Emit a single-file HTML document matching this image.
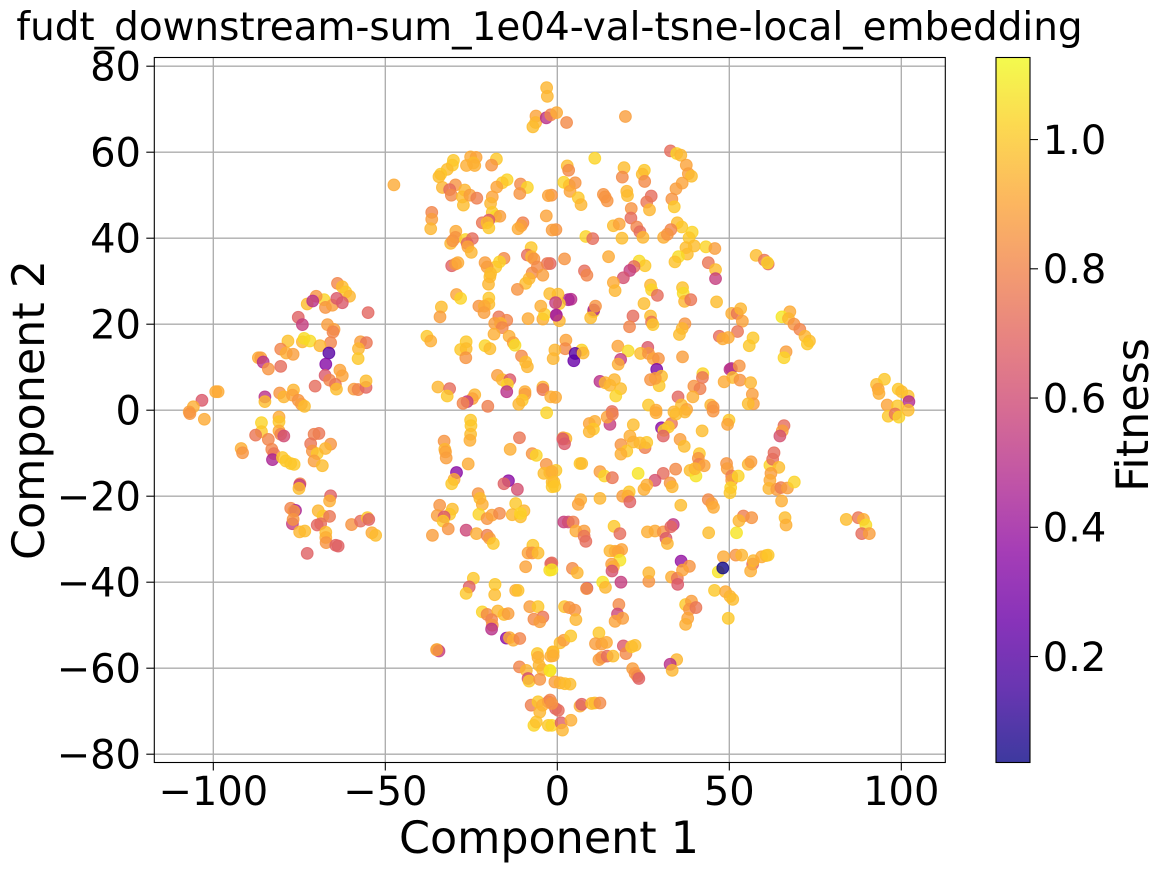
<!DOCTYPE html>
<html lang="en">
<head>
<meta charset="utf-8">
<title>fudt_downstream-sum_1e04-val-tsne-local_embedding</title>
<style>
html,body{margin:0;padding:0;background:#fff;}
svg{display:block;}
text{font-family:"DejaVu Sans",sans-serif;fill:#000;}
</style>
</head>
<body>
<svg id="chart" xmlns="http://www.w3.org/2000/svg" width="1163" height="872" viewBox="0 0 1163 872">
<defs>
<linearGradient id="plasma-gradient" x1="0" y1="1" x2="0" y2="0"></linearGradient>
<clipPath id="plot-clip"><rect x="154.3" y="57.5" width="791" height="705"></rect></clipPath>
</defs>
<text x="549.5" y="40" text-anchor="middle" font-size="38.9">fudt_downstream-sum_1e04-val-tsne-local_embedding</text>
<g id="grid"></g>
<g id="points" clip-path="url(#plot-clip)"></g>
<rect x="154.3" y="57.5" width="791" height="705" fill="none" stroke="#000" stroke-width="1.1"></rect>
<g id="x-axis"></g>
<g id="y-axis"></g>
<text x="549" y="853" text-anchor="middle" font-size="44.4">Component 1</text>
<text transform="translate(44,410) rotate(-90)" text-anchor="middle" font-size="44.4">Component 2</text>
<rect x="996" y="57.5" width="34" height="705" fill="url(#plasma-gradient)" stroke="#000" stroke-width="1.1"></rect>
<g id="colorbar-axis"></g>
<text transform="translate(1148,415) rotate(-90)" text-anchor="middle" font-size="44.4">Fitness</text>
</svg>
<script>
const xTickValues = [-100, -50, 0, 50, 100];
const yTickValues = [-80, -60, -40, -20, 0, 20, 40, 60, 80];
const colorTickValues = [0.2, 0.4, 0.6, 0.8, 1.0];
const plasmaStops = ['#0d0887','#41049d','#6a00a8','#8f0da4','#b12a90','#cc4778','#e16462','#f1844b','#fca636','#fcce25','#f0f921'];

const comp1 = [
-3.1,-2.9,-6.2,-6.3,-7.1,-3.2,-1.9,-0.2,2.7,19.8,
32.9,34.7,35.9,10.9,2.9,3.3,1.9,3.5,5.2,3.7,
6.1,6.9,-1.7,19.4,18.9,25.3,24.7,25.4,20.2,20.4,
13.4,14.5,13.9,27.3,26,26.8,37.5,38.1,39,36.3,
34.5,33.3,34,21.5,21.4,23.1,24,24.9,16.3,18,
18.8,34.9,36.2,33,30.9,32,39.2,38.3,39.8,37.4,
37.8,43.2,45.8,35.2,34.2,43.9,46,46,-0.4,8.3,
10.3,2.1,14.9,-2.1,7.9,8.6,23.8,25.5,22.3,21.1,
19.2,16.3,16.8,27.1,27.4,29.1,36.4,36.6,37,38.8,
46.3,25.2,22,21,27.1,27.4,27.8,37.1,36.3,35.5,
10.5,10.6,11.1,9.7,3.97,3.2,0.2,0.6,-0.3,0.6,
2.5,2.3,-0.7,-1.2,7.1,4.8,5.2,7.5,17.6,20.6,
26.3,24.2,26.5,27.9,29.4,18.4,17.7,28.9,36.4,30.3,
29.6,27.1,28.5,12.4,13.9,15.3,16.6,18.4,17,42.3,
42.2,39.7,41.5,39.4,35.1,44.6,45.3,26.5,28.7,33.9,
36.1,37.6,15.9,50.6,50.2,52.9,51,48.5,53.1,56.2,
56.7,57,55.5,50.7,52.3,53.3,53.8,52.4,47.1,48.1,
49.7,56.9,55.8,57.8,60.2,61.3,61.1,67.6,65.3,67.2,
68.8,70.5,72,73.3,72.7,66.5,65.9,92.8,95.1,93.3,
93.5,99.1,100.1,102,102.2,95.9,98.9,96.2,98.2,99.3,
102,
-47.5,-30.2,-30.5,-32,-33.9,-34.4,-33.4,-29.6,-31.3,-30.8,
-26.9,-27.6,-27.3,-25.4,-23.4,-25.2,-23.6,-24.4,-26.4,-24,
-17.7,-19.1,-14.6,-16,-17.6,-18.9,-19.4,-18.9,-17.9,-16.7,
-21.8,-19.9,-20.4,-19.9,-10.7,-8.7,-10.9,-2.6,-3.2,-10,
-10.5,-11.4,-1.5,-36.5,-36.5,-36.8,-29.5,-29.6,-31,-30.4,
-26.7,-24.7,-26.2,-26,-25,-7.6,-8.7,-7.5,-6.8,-2.9,
-5.8,-7.3,-4.2,-8.2,-9.2,-11.6,-15.5,-16.8,-17.9,-21,
-20.4,-19.4,-19.6,-20,-30.7,-29.6,-28.9,-29.3,-28.1,-33.7,
-34.1,-19.9,-19.9,-22.8,-21.2,-21.3,-17,-14.7,-16.5,-18.2,
-16,-18.4,-8.5,-4.2,-3.7,-4.8,-2.2,-0.5,-0.3,-37.9,
-36.8,-26.5,-28.1,-26.5,-26.6,-21,-19.6,-14,-12.8,-12.3,
-10.4,-9.2,-8.7,-17.4,-16,-13.8,-14.5,-14.7,-4.2,-4.2,
-9.4,-9.4,-10.2,-11.2,-1.9,-0.5,-34.7,-31.3,-32,-24,
-24.7,-26.2,-27.4,-20.2,-3.1,
-63.9,-62.5,-61.5,-60.4,-67.8,-70.1,-72.7,-71.1,-67.4,-65.4,
-64.1,-62.5,-55,-75.3,-74.1,-66.8,-64.9,-65.2,-65.9,-57.2,
-55.5,-57.8,-57.9,-78.3,-74.1,-73.6,-71.9,-69,-66.4,-67.3,
-80.4,-78.8,-76.8,-86.9,-86.2,-85.5,-84,-80.4,-63.2,-62.5,
-67.5,-66.2,-64.5,-64.2,-70.4,-59.1,-57.9,-55.6,-55.6,-85,
-85,-80.7,-79.5,-76.7,-77,-75.3,-74.4,-73.5,-99.3,-98.6,
-103.3,-105.8,-107,
-106.8,-102.6,-86,-86,-80.9,-80.9,-80.9,-80.4,-79.5,-87.7,
-84,-83,-82.4,-82.8,-91.9,-91.5,-79.9,-78.9,-77.5,-76.5,
-74.8,-74.9,-75.1,-65.9,-66.2,-69.3,-70.7,-71.7,-71.2,-69.8,
-70.7,-68.3,-65.9,-67.4,-77.5,-76.1,-76.6,-77,-76.8,-74.9,
-73.4,-69.5,-68.1,-66.2,-68.8,-69.8,-67.3,-67.3,-67.2,-64.4,
-63.7,-72.7,-59.8,-57.2,-55.2,-54.8,-53.9,-52.8,
-25.2,-25.1,-25.2,-25.4,-32.9,-32.7,-32.5,-32.3,-25.9,-29.3,
-30,-30.7,-11,-13.7,-7.3,-6.1,-14.2,-15.5,-11.6,-3.2,
-2.2,-3.9,-1.5,-1.5,-23,-22.5,-21.8,-34.2,-34.9,-30.5,
-31.3,-32.9,-33.2,-31.7,-36.3,-26.5,-23.5,-22.8,-20.4,-19,
-16.8,-12.1,-13.1,-10.7,-9.7,-10.7,-20.4,-19.7,-18.6,-7.1,
-8.5,-7.3,-5.6,-9.2,-1.9,-2.2,-24.4,-25.6,-26.5,-18.1,
-18.2,-12.1,-11.4,-8,-5.6,-4.2,-6.8,-5.1,-21.8,-20.4,
-17.3,-15.5,-14.3,-19.1,-18.9,-19.1,-14.8,-13.9,-12.8,-10.9,
-34.9,-34.4,-35.1,-5.8,-5.6,-1.9,-1.3,-5.3,-2.2,-4.3,
-11,-9,-8.5,-8.2,-5.1,-7.6,-5.6,-2.6,-4.3,-5.1,
-0.5,-6.8,-6.1,-2.6,
-1.6,0.3,1.1,1.5,3.97,-2.1,-1.6,6.6,7.1,9.98,
10.9,12.4,-0.7,0.8,2.2,3.7,-2.1,21.9,22.6,23.3,
23.7,12.1,12.9,14.5,16.2,19.2,19.96,21.6,22.6,12.1,
11.1,12.9,14.3,34.7,32.8,33.4,-1.2,-1.2,0.8,1.9,
3.9,2.1,3.5,5.1,5.4,17.9,17.5,16.8,19,37.3,
39,38.4,40.3,37.9,37.3,8.6,8.5,13.2,14,18.5,
26.6,26.6,33.2,34.9,35,36,38.4,36.4,45.7,48.9,
50.2,51,49.7,48.3,46.8,48.1,51.9,53.6,56.8,56.2,
57,59.4,60.7,61.3,16.5,18.2,26.2,28.4,30.8,33.7,
33,31.6,32,1.9,3.2,4.6,5.4,7.8,7.8,8.3,
15.3,16.8,18.7,17.7,18.2,15.8,16.3,15.9,4.4,5.8,
-1.6,-1.6,35.9,43.9,44.9,45.4,44,52.1,54.1,52.8,
56.5,66.2,66.5,65.2,84,87.5,89,89.7,88.5,90.7,
12.4,6.8,6.1,19,20.9,20.5,21.1,6.6,7.1,12.4,
13.7,16,23.5,30.8,28.4,26,25.2,32.8,33.4,34.4,
38.6,40.3,41.3,41,41.2,42.7,40,49.2,49.4,50.7,
50.7,52.6,50.4,50.2,55.5,56.3,61.8,63,62.6,64.4,
62.1,61.8,61.5,63.8,65,66.9,68.9,65.9,65.4,64.7,
49.9,49.5,42.1,35.7,36.9,25.5,26,24,22.1,21.1,
18.5,20.2,18.5,22.1,30.3,33.2,31,32.3,30.8,9.3,
10.9,10.5,9.3,15.3,14.5,16,1.7,2.5,1.6,2.1,
-0.4,-1.6,-1,-0.7,28.7,34.5,37.1,45.3
];

const comp2 = [
75,73,68.4,66.9,65.9,68,68.7,69.2,66.9,68.3,
60.3,59.7,59.3,58.6,56.8,55.8,53,52.3,52.9,50.9,
49.4,47.8,50,56.4,54.2,55.8,54.9,53.2,50.9,49.9,
50.2,48.7,49.6,49.8,48.4,46.6,57,55,54.4,52.8,
51.5,49.1,47.3,46.9,44.7,42.6,41.5,40.2,42.9,43.3,
40,43.6,42.6,42,40.2,40.9,41.4,40.1,38.2,37.8,
36.3,38,37.6,35.7,34.5,34.3,32.7,30.6,42,40.4,
39.9,35.2,35.7,34.1,32.4,31.4,34.7,33.6,33.4,32.5,
30.8,29.7,27.8,29.1,28,26.7,28.5,27.2,25.3,25.7,
25.2,24.8,21.9,19.4,21.9,20.5,19.9,20.1,19,17.6,
22.9,23.3,24.2,21.5,25.8,25.7,27,24.8,22.1,20.8,
16.3,14.3,14,12,14,11.5,13.2,13.3,14.9,13.8,
14.6,13.2,13.2,12,12,11.8,10.7,9.5,12.4,7.9,
5.7,7.1,7.4,6.7,6.4,5.8,7.1,5,3.3,8.5,
7.6,5.6,5,3.1,3.1,1.2,0.7,1.2,0,-0.4,
1.2,0.2,-0.3,9.7,9.5,10.3,7.6,6.6,7,6.4,
3.7,1.5,1.5,22.5,22.5,23.6,20.7,18.3,17.2,16.6,
16.9,16.8,15,36,34.9,34,34.3,22.9,21.7,21.3,
20,18.8,17.2,16.1,15.4,13.6,12.2,6,7.2,4.9,
3.9,4.9,4.3,3.3,2,1.2,1,-1.4,-0.9,-1.6,
0,
52.4,58.1,57,56,54.9,54.3,51.8,52.4,51.3,50,
51.2,49.6,47.7,50,49.3,58.9,58.8,57.5,56.9,56.9,
58.4,57,53.6,52.9,51.9,49.6,48.1,46,45.1,45.1,
43.6,44.2,43.6,42.4,52.6,51.8,50.4,49.9,45.2,43.6,
42.9,42.2,41.9,46,44.4,42.2,41.6,40.2,38.8,39.4,
39.7,39.9,38.8,38,36.7,37.8,36.1,35.7,35.2,34.1,
33.3,31.9,31.4,30.6,29.5,28.1,35.3,34.5,33.3,34.3,
33.3,31.8,31,29.3,33.6,34,34.3,26.9,26,24,
21.7,26.1,24.7,24.2,24.2,22.7,21.7,20.9,20.2,20.2,
19.2,17.7,21.3,21.2,22.3,24.2,27.1,25,22.1,17.2,
16.1,15.9,14.1,14.3,12.2,15,14.3,17.2,15.7,15.1,
12.6,11.2,10.1,8.1,7.1,7.1,6,4.3,5.4,4.8,
4.3,3.7,2.3,1.4,3.1,3,5.4,5,3.3,3.6,
2.7,2,1.6,0.9,-0.6,
29.5,28.7,27.5,26.5,25.7,26.5,24.7,25.4,23.9,24.4,
26,25,22.7,21.6,19.9,19.9,18.8,18.2,15.7,15.9,
15.7,14.3,12,16.1,15.9,16.7,16.1,15,13.3,10.7,
14.2,13.3,13,12.2,12.2,11.2,9.6,10.2,9.3,8,
8.1,7,6,4.9,5.6,4.9,4.8,5.3,6.8,3.1,
2,4,3.1,4.7,3.5,2.3,1.4,0.9,4.3,4.3,
2.3,0.8,-0.4,
-0.8,-2.1,-2.9,-5,-1.6,-2.7,-4.8,-5.6,-6,-5.8,
-6.8,-9.1,-10.1,-11.5,-8.9,-9.9,-11,-11.8,-12.4,-12.6,
-17.1,-17.4,-18.2,-19.9,-21.1,-5.4,-5.6,-7.8,-9.5,-10.1,
-11.8,-12.9,-7.9,-8.9,-22.8,-23.3,-23.5,-26.4,-25.4,-28.3,
-28.1,-23.4,-24.6,-24.7,-26.4,-26.7,-28.4,-29.6,-30.8,-31.4,
-31.6,-33.3,-26.6,-25.8,-25,-25.4,-28.5,-29.1,
-2.3,-3.6,-5.6,-7,-7.2,-9.1,-9.7,-11.1,-12.5,-14.5,
-16.1,-17.1,-6.4,-9.1,-10.1,-10.5,-16.4,-17.1,-18.4,-12.6,
-14.5,-14.7,-16.7,-17.8,-19.4,-20.5,-21.9,-22.1,-24.5,-23,
-24.2,-24.8,-25.8,-27.6,-29.1,-27.9,-28.7,-24.2,-25.2,-24.4,
-24,-21.7,-24.3,-24.8,-23.4,-24,-29.1,-29.8,-31,-31.4,
-33.2,-33.2,-33.2,-36.4,-35.7,-37.2,-39.1,-41.1,-42.6,-40.5,
-42.9,-41.9,-41.9,-45.7,-45.7,-48.1,-48.6,-49.2,-46.9,-47.5,
-46.7,-47.5,-47.3,-48.7,-50,-50.9,-53,-52.9,-53.5,-53.1,
-55.7,-56,-55.7,-56.6,-57.5,-57.2,-56.2,-59.3,-60.6,-60.3,
-59.7,-60.5,-62.4,-63,-62.6,-68.6,-67.8,-67.8,-68.6,-70.2,
-69.4,-73.3,-72.5,-73.3,
-73.3,-69.8,-72.7,-74.4,-72.1,-67.4,-68.2,-68.8,-68.4,-68.2,
-68.1,-68.1,-63.2,-63.4,-63.6,-63.7,-60.5,-60.1,-61.2,-61.9,
-62.4,-58,-57.5,-57.2,-57.2,-54.8,-56.6,-55,-54.7,-51.8,
-54.3,-54.4,-54,-58,-59.1,-60.5,-56.2,-57.1,-54.1,-53.5,
-52.5,-45.7,-45.9,-46.5,-48.7,-45.2,-47.4,-49.1,-48.4,-45.2,
-44.4,-46.3,-45.9,-48.4,-49.8,-41.4,-41.5,-40,-41.2,-40,
-39.8,-37.8,-38.8,-39.1,-40.5,-35.1,-36.3,-37.2,-41.9,-42.2,
-43.3,-44,-48.4,-34.1,-37.6,-36.7,-33.7,-33.7,-35.8,-37.4,
-35,-34.1,-33.8,-33.7,-27,-28.7,-28.3,-28.1,-28.3,-26.6,
-27.1,-29.8,-31,-26,-26,-26,-28.1,-28.1,-29.3,-30.5,
-32.7,-32.8,-32.4,-32.9,-34.9,-35.8,-36.4,-37.4,-36.8,-37.8,
-35.5,-37.1,-22.1,-20.8,-21.7,-22.6,-28.5,-28.5,-24.6,-25.7,
-25,-25,-26.7,-21.1,-25.4,-25,-25.4,-26.7,-28.7,-28.7,
-20.5,-20.8,-21.9,-20,-19,-20,-21.3,-12.4,-12.4,-14.3,
-15.3,-15.7,-14.7,-14.7,-16.3,-17.4,-18.4,-16.9,-17.8,-13.7,
-14,-15.3,-10.1,-11.2,-12.6,-12.9,-13.6,-12.4,-13.6,-15.3,
-16.3,-15.3,-18,-19.2,-12.6,-12,-12.8,-9.9,-11.4,-13.3,
-14.7,-16.3,-18.2,-18.4,-18,-18.1,-16.7,-3.6,-4.8,-6,
-2.3,-3.3,-4.8,-6.8,-8.4,-8.7,-7.5,-7.6,-7.4,-6,
-8,-9.5,-10.2,-3.4,-4.1,-3.1,-4.7,-3.9,-6,-3.1,
-2.6,-4.4,-5,-3.3,-1.6,-0.9,-6.4,-6.6,-6.7,-7.8,
-14,-14.3,-16.7,-17.7,-0.6,-0.9,-0.4,-0.2
];

const fitness = [
.95,.95,.9,.95,.97,.5,.8,.92,.82,.88,
.72,1.03,.95,1.03,.97,.82,1.03,.98,.85,.9,
1,.95,.85,.97,.82,1,.97,.82,.95,.97,
.85,.85,.85,.72,.75,.95,.9,.88,.97,.9,
.88,.85,1,.85,.72,.8,.72,.95,.97,.9,
.97,.97,1,.8,.93,.85,1.03,1,.97,.97,
.97,1.03,.88,1.05,.98,.75,.97,.55,.85,1.03,
.72,.85,.92,.7,.72,.8,1.05,1,.72,.55,
.62,.92,.95,.95,1.03,.72,.98,1.05,.95,.75,
.97,.97,.72,.8,.97,.75,1,.85,.95,.97,
1.05,.45,.85,.97,.5,.45,.97,1,.4,.95,
.9,.82,.95,.95,1.03,.25,.2,.95,.9,1.05,
.65,.97,.85,.9,.85,.55,.93,.3,.88,.97,
1,.85,.88,.5,.95,.95,.95,.97,1.03,1.03,
.75,.85,.78,.93,.7,.95,.85,1,.92,.95,
.97,.9,.72,.5,.5,.85,.97,.92,.85,.95,
.88,.88,.97,.93,.75,.95,.9,.75,.72,.92,
.92,1,1,.97,.75,.72,1.03,.92,1.08,.95,
.85,.8,.95,.97,1,.88,1.03,.97,1,.9,
.93,1,.97,.98,.48,.9,1,1,.75,1.03,
.97,
.92,1,1,.97,1,.97,.95,.85,.72,.82,
.95,.97,.97,.88,.78,.92,.9,.97,.93,.93,
1,.85,1.03,1,.9,.9,.95,1,1.05,.88,
.75,.65,.97,1,.82,1.03,.85,.9,.9,.78,
.88,.92,.88,.8,.88,.95,.92,.85,.95,.85,
1.03,.72,.7,.9,.95,1,.72,.95,.85,.75,
.82,.82,.88,.95,.97,.85,.82,1.03,1,.88,
.88,.97,.97,.95,.68,.85,.92,.9,1.03,.97,
.88,1,.97,.85,.92,.88,.75,.8,.95,.88,
.8,.93,.92,.93,1.02,.93,.97,.55,.45,1,
.93,1,1,.97,.85,1.03,.97,.93,.88,1.05,
.82,.97,.95,.88,.95,.65,1.03,.5,.95,.75,
.93,.88,1,.95,.93,.92,.95,.72,1,.95,
.9,.55,.8,.78,1.03,
.8,.97,1,.95,1.03,.85,.97,.5,.85,.88,
.65,.65,.7,.68,.55,.88,.88,.8,.8,.88,
.75,.95,1,.98,.95,1.05,1.05,.95,.2,.33,
.8,.93,.88,.92,.88,.5,.85,.72,.9,.9,
.65,.8,.75,.97,.72,.88,.8,.7,.97,.5,
.97,.85,.95,.95,.9,.85,.88,.97,.92,.92,
.65,.93,.88,
.85,.92,1.03,1,.92,1,.92,.8,.6,.75,
.8,.8,.75,.45,.93,.85,1,1,1,1,
.8,.55,.97,.68,.93,.75,.78,.75,.85,1,
.88,.97,.85,.95,.8,.45,.85,.55,.85,.95,
.97,.95,1,.75,.72,.7,.97,.93,.85,.68,
.68,.68,.85,.72,1,.68,.92,.97,
1,1,.97,.93,.85,.95,.9,.88,.92,.35,
.92,1,.75,.93,.85,1.03,.35,.68,.62,.85,
.93,.97,.97,1,.85,.97,.93,.85,.88,.97,
1,.65,1,.85,.88,.58,.93,1.03,.85,.9,
.82,1,.95,.97,.95,1.03,.78,.88,1,1,
.9,.85,.97,.9,.68,1.05,1,.68,1,1,
.97,.93,.98,.88,1,.75,.82,.88,1.03,.82,
.95,.97,.88,.8,.85,.5,.35,.92,.93,.8,
1,.55,.88,1,.93,.93,.97,.95,1.07,.95,
.8,.95,.62,1,.85,.78,1,.75,.93,.95,
.68,1.03,.98,1,
1.03,.72,.68,.95,.93,.8,.85,.93,.68,.97,
.97,.82,.88,.93,.97,.97,1.07,.88,.85,.82,
.68,.88,.85,.72,.97,.65,.82,1,.97,1,
.88,.88,.92,.95,.5,.95,.97,.93,.97,.88,
1,.98,.85,.85,.95,.82,.58,.9,.88,1,
.88,.85,.75,.9,.93,.5,.85,1.07,.95,.55,
.85,.95,.93,.75,.65,.38,.85,.9,1,.92,
.95,.97,1,.92,1.07,.04,.85,.95,.72,.93,
.95,.92,.97,1,1,.72,.93,.92,.85,.52,
.7,.65,.95,.55,.6,.78,.92,.88,.75,.72,
.95,.93,.9,.9,1.07,.88,.93,.62,.82,.95,
.72,1.07,.97,.82,.88,.92,.97,1.07,.78,.95,
.85,.97,.93,.93,.97,.75,.93,1.05,.72,.88,
.95,.93,.9,.88,1,.92,.68,1,.97,.88,
1.03,.75,1.07,.72,.62,.93,.93,.85,.95,.82,
.97,1.07,1,.85,.78,.9,.95,.85,.88,.78,
.88,1.03,1.03,1,.95,.88,1.03,.72,.72,.97,
.88,.92,.95,.88,.78,.88,1.03,.72,.88,.62,
1,.9,.97,.88,.97,.78,1,.97,.95,.93,
.85,1,.93,.97,.35,.75,1.03,1,.68,.9,
.93,1,.95,.55,.9,.78,.88,.95,.65,.65,
1,.93,.97,1,.92,.97,.95,.85
];

const plotLeft = 154.3, plotRight = 945.3, plotTop = 57.5, plotBottom = 762.5;
const cbLeft = 996, cbRight = 1030, cbTop = 57.5, cbBottom = 762.5;
const colorMin = 0.036, colorMax = 1.127;
const tickLength = 8;
const svgNS = 'http://www.w3.org/2000/svg';

function xScale(v) { return 557.3 + v * 3.44; }
function yScale(v) { return 410.2 - v * 4.3; }
function colorScale(v) { return cbBottom - (v - colorMin) / (colorMax - colorMin) * (cbBottom - cbTop); }

function hexToRgb(h) {
  return [parseInt(h.slice(1, 3), 16), parseInt(h.slice(3, 5), 16), parseInt(h.slice(5, 7), 16)];
}
function plasma(t) {
  const c = Math.max(0, Math.min(1, t)) * (plasmaStops.length - 1);
  const i = Math.min(Math.floor(c), plasmaStops.length - 2);
  const a = hexToRgb(plasmaStops[i]), b = hexToRgb(plasmaStops[i + 1]);
  const f = c - i;
  return 'rgb(' + a.map(function (v, k) { return Math.round(v + (b[k] - v) * f); }).join(',') + ')';
}
function make(tag, attrs, parent, text) {
  const el = document.createElementNS(svgNS, tag);
  Object.keys(attrs).forEach(function (k) { el.setAttribute(k, attrs[k]); });
  if (text !== undefined) el.textContent = text;
  parent.appendChild(el);
  return el;
}
function fmt(v) { return v < 0 ? '\u2212' + Math.abs(v) : String(v); }

const gridGroup = document.getElementById('grid');
const pointGroup = document.getElementById('points');
const xAxisGroup = document.getElementById('x-axis');
const yAxisGroup = document.getElementById('y-axis');
const cbAxisGroup = document.getElementById('colorbar-axis');

xTickValues.forEach(function (v) {
  const x = xScale(v);
  const g = make('line', {x1: x, x2: x, y1: plotTop, y2: plotBottom, stroke: '#adadad', 'stroke-width': 1.35}, gridGroup);
  
  
  const t = make('line', {x1: x, x2: x, y1: plotBottom, y2: plotBottom + tickLength, stroke: '#000', 'stroke-width': 1.1}, xAxisGroup);
  
  
  const l = make('text', {x: x, y: 805, 'text-anchor': 'middle', 'font-size': 40}, xAxisGroup, fmt(v));
  
  
});

yTickValues.forEach(function (v) {
  const y = yScale(v);
  const g = make('line', {x1: plotLeft, x2: plotRight, y1: y, y2: y, stroke: '#adadad', 'stroke-width': 1.35}, gridGroup);
  
  
  const t = make('line', {x1: plotLeft - tickLength, x2: plotLeft, y1: y, y2: y, stroke: '#000', 'stroke-width': 1.1}, yAxisGroup);
  
  
  const l = make('text', {x: 141, y: y + 14.3, 'text-anchor': 'end', 'font-size': 40}, yAxisGroup, fmt(v));
  
  
});

colorTickValues.forEach(function (v) {
  const y = colorScale(v);
  const t = make('line', {x1: cbRight, x2: cbRight + tickLength, y1: y, y2: y, stroke: '#000', 'stroke-width': 1.1}, cbAxisGroup);
  
  
  const l = make('text', {x: 1042.7, y: y + 14.3, 'font-size': 40}, cbAxisGroup, v.toFixed(1));
  
  
});

const gradient = document.getElementById('plasma-gradient');
plasmaStops.forEach(function (c, i) {
  make('stop', {offset: i / (plasmaStops.length - 1), 'stop-color': c, 'stop-opacity': 0.8}, gradient);
});

const pointCount = Math.min(comp1.length, comp2.length, fitness.length);
for (let i = 0; i < pointCount; i++) {
  const col = plasma((fitness[i] - colorMin) / (colorMax - colorMin));
  const p = make('circle', {
    cx: xScale(comp1[i]),
    cy: yScale(comp2[i]),
    r: 5.9,
    fill: col,
    'fill-opacity': 0.8,
    stroke: col,
    'stroke-opacity': 0.8,
    'stroke-width': 1
  }, pointGroup);
  
  
}
</script>
</body>
</html>
